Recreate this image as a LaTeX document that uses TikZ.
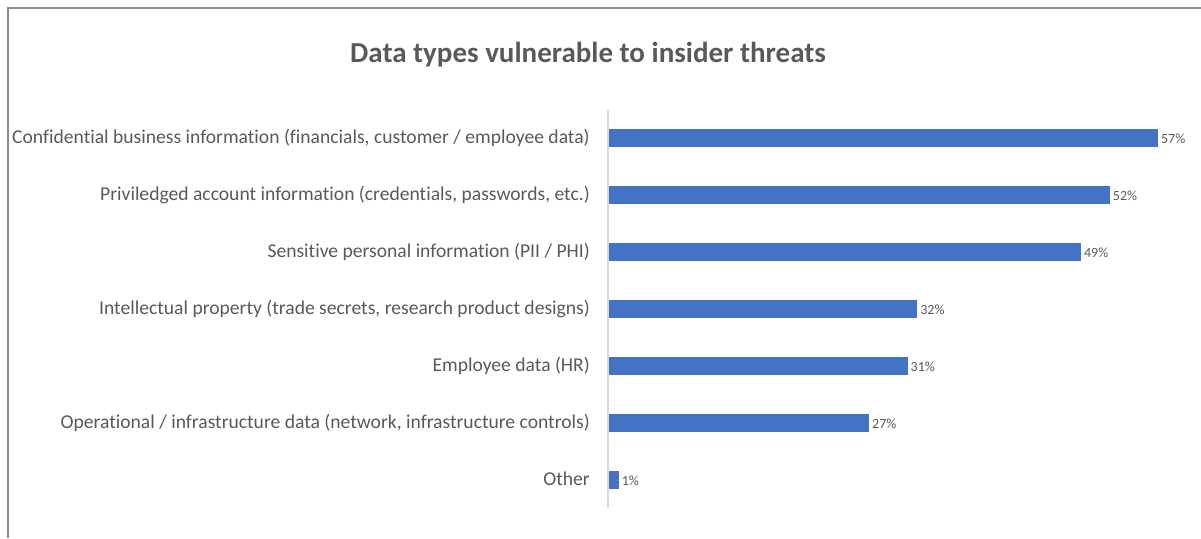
\documentclass[tikz,border=0pt]{standalone}
\usepackage{fontspec}
\setmainfont{Carlito}[Ligatures=NoCommon]
\definecolor{barblue}{HTML}{4472C4}
\definecolor{txtgray}{HTML}{595959}
\definecolor{axisgray}{HTML}{D9D9D9}
\definecolor{framegray}{HTML}{8C8C8C}
\begin{document}
\begin{tikzpicture}[x=1pt, y=-1pt,
        bar/.style = {fill=barblue, draw=none},
        catlabel/.style = {text=txtgray, font=\fontsize{19.6}{22}\selectfont, anchor=base east, inner sep=0pt},
        vallabel/.style = {text=txtgray, font=\fontsize{14}{16}\selectfont, anchor=base west, inner sep=0pt}]
    \useasboundingbox (0,0) rectangle (1201,538);
    % chart frame
    \coordinate (frameR) at (1201,8);
    \coordinate (frameTL) at (8,8);
    \coordinate (frameB) at (8,538);
    \draw[framegray, line width=1.6] (frameR) -- (frameTL) -- (frameB);
    % title
    \node[text=txtgray, font=\fontsize{29}{33}\selectfont\bfseries, anchor=base] (title) at (588,62)
        {Data types vulnerable to insider threats};
    % vertical axis
    \coordinate (axtop) at (608,110);
    \coordinate (axbot) at (608,508);
    \draw[axisgray, line width=1.3] (axtop) -- (axbot);
    % bars
    \foreach \v/\t [count=\i] in {
            57/{Confidential business information (financials, customer / employee data)},
            52/{Priviledged account information (credentials, passwords, etc.)},
            49/{Sensitive personal information (PII / PHI)},
            32/{Intellectual property (trade secrets, research product designs)},
            31/{Employee data (HR)},
            27/{Operational / infrastructure data (network, infrastructure controls)},
            1/{Other}} {
        \pgfmathsetmacro{\yc}{138+57*(\i-1)}
        \fill[bar] (609,\yc-9) rectangle (609+\v*9.63,\yc+9) coordinate (bar\i);
        \node[vallabel] (val\i) at ([xshift=3pt]bar\i |- 0,\yc+5) {\v\%};
        \node[catlabel] (cat\i) at (590,\yc+5) {\t};
    }
\end{tikzpicture}
\end{document}
